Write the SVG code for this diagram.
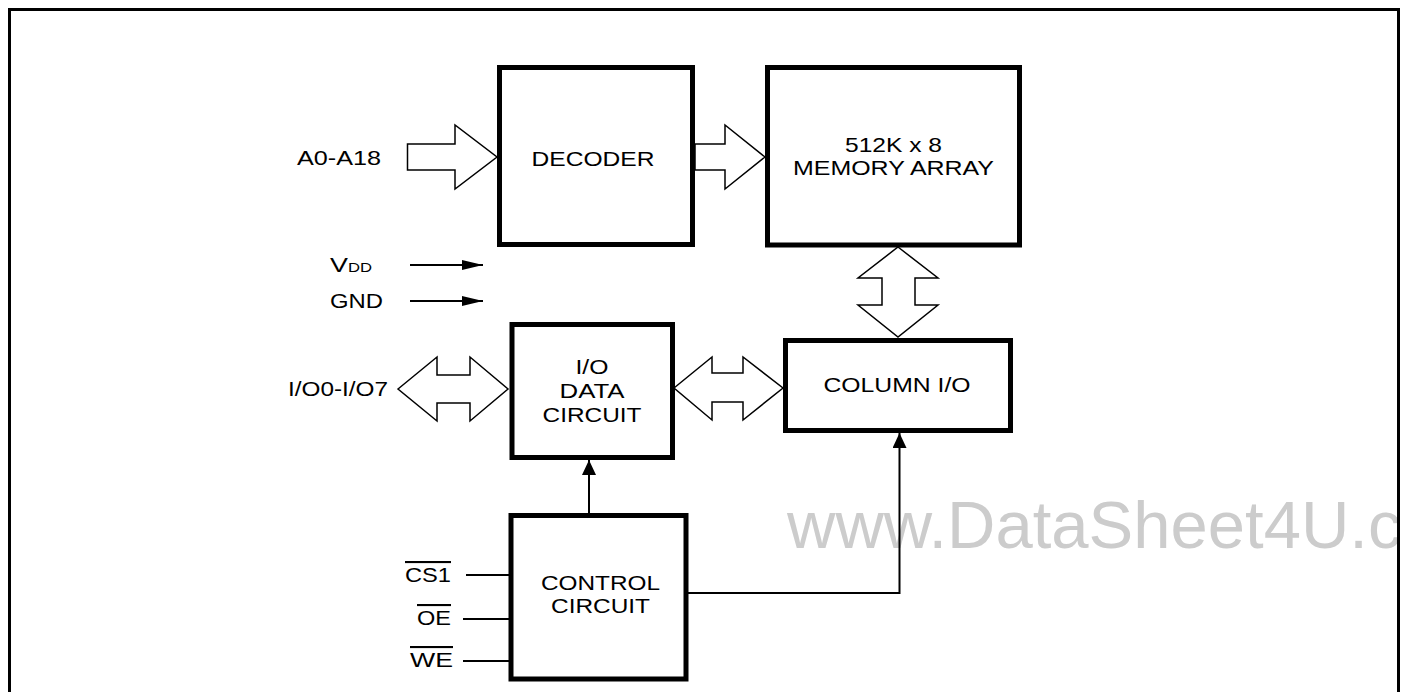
<svg xmlns="http://www.w3.org/2000/svg" width="1401" height="692" viewBox="0 0 1401 692">
<style>
.box{fill:#fff;stroke:#000;stroke-width:5}
.fat{fill:#fff;stroke:#000;stroke-width:1.5;stroke-linejoin:miter}
.ln{fill:none;stroke:#000;stroke-width:2}
.t{font-family:"Liberation Sans",Arial,Helvetica,sans-serif;font-size:21px;fill:#000}
.m{text-anchor:middle}
.ov{text-decoration:overline}
.wm{font-family:"Liberation Sans",Arial,Helvetica,sans-serif;font-size:67px;fill:#cccccc}
</style>
<defs>
<marker id="ah" markerUnits="userSpaceOnUse" markerWidth="21" markerHeight="10" refX="21" refY="5" orient="auto"><path d="M0,0 L21,5 L0,10 z" fill="#000"/></marker>
<marker id="ahv" markerUnits="userSpaceOnUse" markerWidth="15" markerHeight="14" refX="15" refY="7" orient="auto"><path d="M0,0 L15,7 L0,14 z" fill="#000"/></marker>
<clipPath id="inner"><rect x="0" y="0" width="1397" height="692"/></clipPath>
</defs>
<rect x="9.5" y="9.5" width="1389" height="700" fill="#fff" stroke="#000" stroke-width="3"/>
<text class="wm" x="787" y="548" clip-path="url(#inner)">www.DataSheet4U.c</text>

<g id="decoder"><rect class="box" x="499.5" y="67.5" width="193" height="177"/><text class="t m" x="593" y="166" textLength="123" lengthAdjust="spacingAndGlyphs">DECODER</text></g>
<g id="memory"><rect class="box" x="767.5" y="67.5" width="252" height="177.5"/><text class="t m" x="893.5" y="152" textLength="97" lengthAdjust="spacingAndGlyphs">512K x 8</text><text class="t m" x="893.5" y="175" textLength="201" lengthAdjust="spacingAndGlyphs">MEMORY ARRAY</text></g>
<g id="iodata"><rect class="box" x="512" y="324.5" width="160.5" height="133"/><text class="t m" x="592" y="374" textLength="33" lengthAdjust="spacingAndGlyphs">I/O</text><text class="t m" x="592" y="398" textLength="65" lengthAdjust="spacingAndGlyphs">DATA</text><text class="t m" x="592" y="422" textLength="99" lengthAdjust="spacingAndGlyphs">CIRCUIT</text></g>
<g id="columnio"><rect class="box" x="785.5" y="340.5" width="225" height="90"/><text class="t m" x="897" y="391.5" textLength="147" lengthAdjust="spacingAndGlyphs">COLUMN I/O</text></g>
<g id="control"><rect class="box" x="511" y="515.5" width="175" height="163.5"/><text class="t m" x="600.5" y="590" textLength="119" lengthAdjust="spacingAndGlyphs">CONTROL</text><text class="t m" x="600.5" y="613" textLength="99" lengthAdjust="spacingAndGlyphs">CIRCUIT</text></g>

<g id="labels">
<text class="t" x="297" y="165" textLength="84" lengthAdjust="spacingAndGlyphs">A0-A18</text>
<text class="t" x="330" y="272" textLength="42" lengthAdjust="spacingAndGlyphs">V<tspan font-size="13">DD</tspan></text>
<text class="t" x="330" y="308" textLength="53" lengthAdjust="spacingAndGlyphs">GND</text>
<text class="t" x="288" y="396" textLength="100" lengthAdjust="spacingAndGlyphs">I/O0-I/O7</text>
<text class="t ov" x="405" y="582" textLength="46" lengthAdjust="spacingAndGlyphs">CS1</text>
<text class="t ov" x="417" y="625" textLength="34" lengthAdjust="spacingAndGlyphs">OE</text>
<text class="t ov" x="410" y="667" textLength="43" lengthAdjust="spacingAndGlyphs">WE</text>
</g>

<g id="connectors">
<polygon class="fat" points="407.5,144 455,144 455,125 497,157 455,189 455,170 407.5,170"/>
<polygon class="fat" points="695,144 725,144 725,125 765,157 725,189 725,170 695,170"/>
<polygon class="fat" points="398,389 437,357 437,375 470,375 470,357 508,389 470,421 470,403 437,403 437,421"/>
<polygon class="fat" points="674,388 712,357 712,373 743,373 743,357 783,388 743,420 743,402 712,402 712,420"/>
<polygon class="fat" points="898,247 938,278 915,278 915,305 938,305 898,337 858,305 882,305 882,278 858,278"/>
<line class="ln" x1="410" y1="265" x2="483" y2="265" stroke-width="2.5" marker-end="url(#ah)"/>
<line class="ln" x1="410" y1="301" x2="483" y2="301" stroke-width="2.5" marker-end="url(#ah)"/>
<line class="ln" x1="589" y1="513" x2="589" y2="460" stroke-width="2.5" marker-end="url(#ahv)"/>
<polyline class="ln" points="688,593 899.5,593 899.5,433" marker-end="url(#ahv)"/>
<line class="ln" x1="466" y1="575" x2="509" y2="575"/>
<line class="ln" x1="463" y1="619" x2="509" y2="619"/>
<line class="ln" x1="463" y1="661" x2="509" y2="661"/>
</g>
</svg>
